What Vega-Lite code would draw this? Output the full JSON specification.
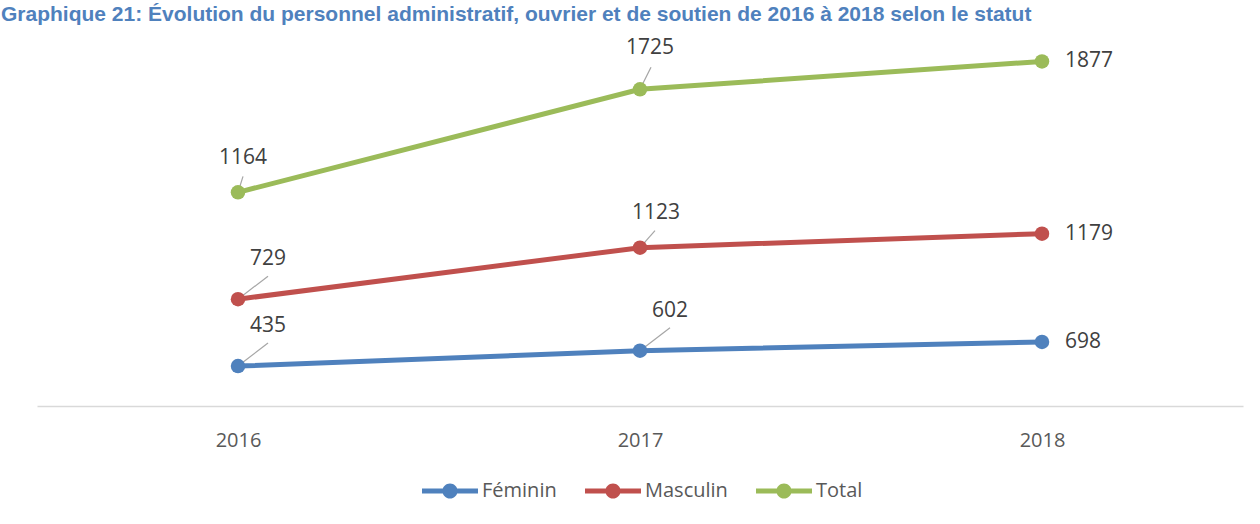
{
  "$schema": "https://vega.github.io/schema/vega-lite/v6.json",
  "autosize": "none",
  "width": 1206,
  "height": 369,
  "padding": {"left": 37, "top": 37, "right": 17, "bottom": 118},
  "background": "white",
  "config": {
    "view": {"stroke": null},
    "font": "Open Sans"
  },
  "title": {
    "text": "Graphique 21: Évolution du personnel administratif, ouvrier et de soutien de 2016 à 2018 selon le statut",
    "anchor": "start",
    "frame": "group",
    "font": "Liberation Sans",
    "fontSize": 21,
    "fontWeight": "bold",
    "color": "#4F81BD",
    "baseline": "top",
    "offset": 12,
    "dx": -36
  },
  "data": {
    "values": [
      {"annee": "2016", "serie": "Féminin", "valeur": 435},
      {"annee": "2017", "serie": "Féminin", "valeur": 602},
      {"annee": "2018", "serie": "Féminin", "valeur": 698},
      {"annee": "2016", "serie": "Masculin", "valeur": 729},
      {"annee": "2017", "serie": "Masculin", "valeur": 1123},
      {"annee": "2018", "serie": "Masculin", "valeur": 1179},
      {"annee": "2016", "serie": "Total", "valeur": 1164},
      {"annee": "2017", "serie": "Total", "valeur": 1725},
      {"annee": "2018", "serie": "Total", "valeur": 1877}
    ]
  },
  "transform": [
    {"stack": "valeur", "groupby": ["annee"], "sort": [{"field": "serie", "order": "ascending"}], "as": ["v0", "v1"]}
  ],
  "encoding": {
    "x": {
      "field": "annee",
      "type": "ordinal",
      "scale": {"type": "point", "padding": 0.5},
      "axis": {
        "title": null,
        "labelAngle": 0,
        "ticks": false,
        "grid": false,
        "domainColor": "#D9D9D9",
        "domainWidth": 1.5,
        "labelFont": "Open Sans",
        "labelFontSize": 20,
        "labelColor": "#595959",
        "labelPadding": 24
      }
    },
    "y": {
      "field": "v1",
      "type": "quantitative",
      "scale": {"domain": [0, 4020]},
      "axis": null
    }
  },
  "layer": [
    {
      "transform": [{"filter": "(datum.serie == 'Féminin' && datum.annee != '2018') || (datum.serie == 'Masculin' && datum.annee == '2016')"}],
      "mark": {"type": "rule", "color": "#A6A6A6", "strokeWidth": 1.2, "x2Offset": 30, "y2Offset": -23},
      "encoding": {"x2": {"field": "annee"}, "y2": {"field": "v1"}}
    },
    {
      "transform": [{"filter": "datum.serie == 'Masculin' && datum.annee == '2017'"}],
      "mark": {"type": "rule", "color": "#A6A6A6", "strokeWidth": 1.2, "x2Offset": 15, "y2Offset": -17},
      "encoding": {"x2": {"field": "annee"}, "y2": {"field": "v1"}}
    },
    {
      "transform": [{"filter": "datum.serie == 'Total' && datum.annee == '2016'"}],
      "mark": {"type": "rule", "color": "#A6A6A6", "strokeWidth": 1.2, "x2Offset": 5, "y2Offset": -16},
      "encoding": {"x2": {"field": "annee"}, "y2": {"field": "v1"}}
    },
    {
      "transform": [{"filter": "datum.serie == 'Total' && datum.annee == '2017'"}],
      "mark": {"type": "rule", "color": "#A6A6A6", "strokeWidth": 1.2, "x2Offset": 11, "y2Offset": -22},
      "encoding": {"x2": {"field": "annee"}, "y2": {"field": "v1"}}
    },
    {
      "mark": {"type": "line", "strokeWidth": 5, "strokeCap": "round"},
      "encoding": {
        "color": {
          "field": "serie",
          "type": "nominal",
          "scale": {"domain": ["Féminin", "Masculin", "Total"], "range": ["#4F81BD", "#C0504D", "#9BBB59"]},
          "legend": {
            "title": null,
            "orient": "none",
            "legendX": 385,
            "legendY": 426,
            "direction": "horizontal",
            "columns": 3,
            "symbolType": "M-1,-0.085L1,-0.085L1,0.085L-1,0.085Z M0.27,0A0.27,0.27,0,1,1,-0.27,0A0.27,0.27,0,1,1,0.27,0Z",
            "symbolSize": 3136,
            "symbolStrokeWidth": 0,
            "labelFont": "Open Sans",
            "labelFontSize": 20,
            "labelColor": "#595959",
            "labelOffset": 4,
            "columnPadding": 28,
            "encode": {
              "symbols": {
                "update": {
                  "fill": {"scale": "color", "field": "value"},
                  "stroke": {"value": "transparent"},
                  "opacity": {"value": 1}
                }
              }
            }
          }
        }
      }
    },
    {
      "mark": {"type": "circle", "size": 210, "opacity": 1},
      "encoding": {"color": {"field": "serie", "type": "nominal"}}
    },
    {
      "transform": [{"filter": "(datum.serie == 'Féminin' && datum.annee != '2018') || (datum.serie == 'Masculin' && datum.annee == '2016')"}],
      "mark": {"type": "text", "dx": 30, "dy": -40, "align": "center", "baseline": "middle", "fontSize": 21, "color": "#404040", "font": "Open Sans"},
      "encoding": {"text": {"field": "valeur", "type": "quantitative"}}
    },
    {
      "transform": [{"filter": "datum.serie == 'Masculin' && datum.annee == '2017'"}],
      "mark": {"type": "text", "dx": 16, "dy": -35, "align": "center", "baseline": "middle", "fontSize": 21, "color": "#404040", "font": "Open Sans"},
      "encoding": {"text": {"field": "valeur", "type": "quantitative"}}
    },
    {
      "transform": [{"filter": "datum.serie == 'Total' && datum.annee == '2016'"}],
      "mark": {"type": "text", "dx": 5, "dy": -34, "align": "center", "baseline": "middle", "fontSize": 21, "color": "#404040", "font": "Open Sans"},
      "encoding": {"text": {"field": "valeur", "type": "quantitative"}}
    },
    {
      "transform": [{"filter": "datum.serie == 'Total' && datum.annee == '2017'"}],
      "mark": {"type": "text", "dx": 10, "dy": -41, "align": "center", "baseline": "middle", "fontSize": 21, "color": "#404040", "font": "Open Sans"},
      "encoding": {"text": {"field": "valeur", "type": "quantitative"}}
    },
    {
      "transform": [{"filter": "datum.annee == '2018'"}],
      "mark": {"type": "text", "dx": 23, "dy": 0, "align": "left", "baseline": "middle", "fontSize": 21, "color": "#404040", "font": "Open Sans"},
      "encoding": {"text": {"field": "valeur", "type": "quantitative"}}
    }
  ]
}
